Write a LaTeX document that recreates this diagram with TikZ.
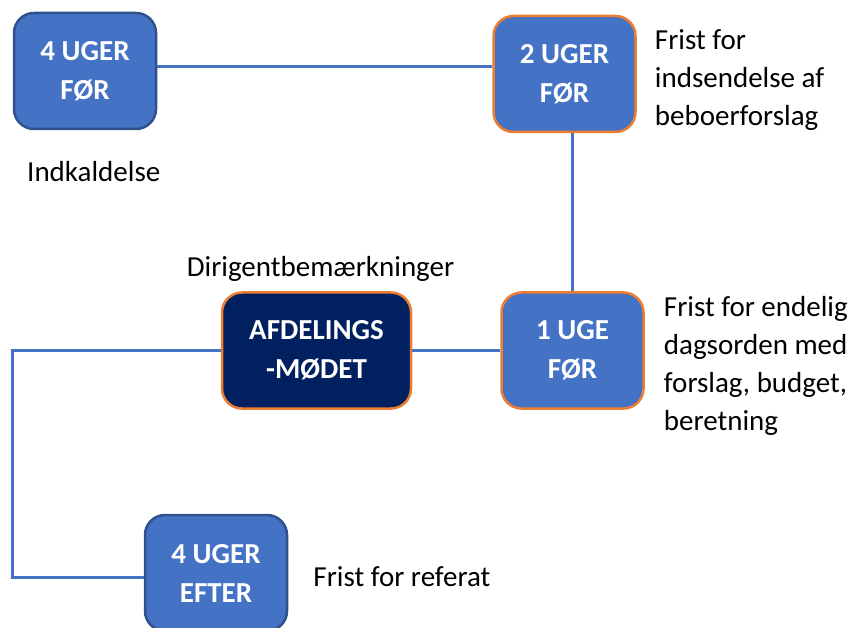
\documentclass[tikz,border=0pt]{standalone}
\usepackage{fontspec}
\setmainfont{Carlito}
\usepackage{tikz}
\usetikzlibrary{positioning}
\definecolor{boxblue}{RGB}{68, 114, 196}
\definecolor{boxedge}{RGB}{47, 82, 143}
\definecolor{accent}{RGB}{237, 125, 49}
\definecolor{navy}{RGB}{0, 32, 96}

\begin{document}
\begin{tikzpicture}[
    x=1pt, y=-1pt,
    phase/.style={draw=boxedge, line width=2.5pt, fill=boxblue, rounded corners=20pt, minimum width=142pt, minimum height=116pt, inner sep=0pt, text=white, font=\fontsize{29}{39}\selectfont\bfseries, align=center},
    deadline/.style={phase, draw=accent},
    note/.style={inner sep=0pt, font=\fontsize{29}{38}\selectfont, align=left},
    link/.style={draw=boxblue, line width=3pt}
]
    \useasboundingbox (0,0) rectangle (854,628);

    % Nodes - top row
    \node[phase] (before4) at (85,71) {4 UGER\\FØR};
    \node[deadline, right=335pt of before4, yshift=-3pt] (before2) {2 UGER\\FØR};

    % Nodes - middle row
    \node[deadline, below=158pt of before2, xshift=8pt] (before1) {1 UGE\\FØR};
    \node[deadline, fill=navy, minimum width=189pt, left=88pt of before1] (meeting) {AFDELINGS\\-MØDET};

    % Nodes - bottom row
    \node[phase] (after4) at (216,573) {4 UGER\\EFTER};

    % Texts
    \node[note, anchor=west] (call) at (27,172) {Indkaldelse};
    \node[note, right=18pt of before2, yshift=-6pt] (proposals) {Frist for\\indsendelse af\\beboerforslag};
    \node[note, right=19pt of before1, yshift=-15pt] (agenda) {Frist for endelig\\dagsorden med\\forslag, budget,\\beretning};
    \node[note, above=10pt of meeting, xshift=4pt] (chair) {Dirigentbemærkninger};
    \node[note, right=25pt of after4, yshift=-4pt] (minutes) {Frist for referat};

    % Lines
    \draw[link] ([yshift=4pt]before4.east) -- ([yshift=4pt]before4.east -| before2.west);
    \draw[link] (before1.north) -- (before1.north |- before2.south);
    \draw[link] (meeting.east) -- (meeting.east -| before1.west);
    \draw[link] (meeting.west) -- ++(-208,0) |- ([yshift=-4pt]after4.west);
\end{tikzpicture}
\end{document}
